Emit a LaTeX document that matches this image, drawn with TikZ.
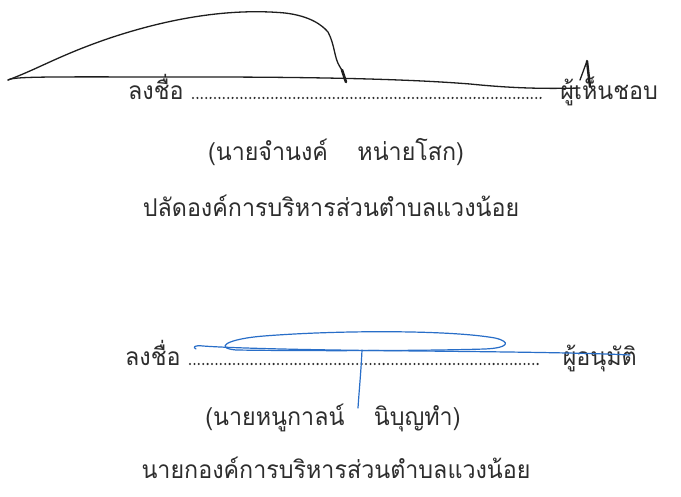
\documentclass[tikz,border=0pt]{standalone}
\usepackage{fontspec}
\newfontfamily\thai[Script=Thai,FakeStretch=0.95]{Loma}
\definecolor{ink}{RGB}{45,45,45}
\definecolor{sigblack}{RGB}{30,30,30}
\definecolor{sigblue}{RGB}{40,110,200}
\begin{document}
\begin{tikzpicture}[x=1pt,y=-1pt,
  txt/.style={inner sep=0pt,text=ink,font=\thai\fontsize{24.5}{29}\selectfont},
  dotline/.style={ink,line width=2.3pt,line cap=round,dash pattern=on 0pt off 4.4pt},
  sigk/.style={sigblack,line width=1.3pt,line cap=round,line join=round},
  sigb/.style={sigblue,line width=1.2pt,line cap=round,line join=round}]
\useasboundingbox[fill=white] (0,0) rectangle (681,497);
% first block
\node[txt,anchor=base west] (s1) at (128,100) {ลงชื่อ};
\node[txt,anchor=base east] (w1) at (658,100) {ผู้เห็นชอบ};
\coordinate (d1a) at (193,98);
\coordinate (d1b) at (541,98);
\draw[dotline] (d1a) -- (d1b);
\node[txt] (n1) at (336,152) {(นายจำนงค์\hspace{1.2em}หน่ายโสก)};
\node[txt] (p1) at (331,206) {ปลัดองค์การบริหารส่วนตำบลแวงน้อย};
% second block
\node[txt,anchor=base west] (s2) at (125,366) {ลงชื่อ};
\node[txt,anchor=base east] (w2) at (637,366) {ผู้อนุมัติ};
\coordinate (d2a) at (190,364);
\coordinate (d2b) at (540,364);
\draw[dotline] (d2a) -- (d2b);
\node[txt] (n2) at (333,418) {(นายหนูกาลน์\hspace{1.2em}นิบุญทำ)};
\node[txt] (p2) at (336,468) {นายกองค์การบริหารส่วนตำบลแวงน้อย};
% black signature
\draw[sigk] (8,80) .. controls (40,68) and (60,55) .. (110,38)
  .. controls (170,18) and (230,8) .. (285,13)
  .. controls (310,16) and (322,25) .. (328,32)
  .. controls (335,45) and (334,58) .. (340,67)
  -- (343,72);
\draw[sigblack,line width=2.6pt,line cap=round] (342,70) -- (346,82);
\draw[sigk] (8,80) .. controls (14,76) and (60,77) .. (200,77)
  .. controls (340,77) and (420,80) .. (470,84)
  .. controls (510,88) and (540,89) .. (580,88);
\draw[sigk] (580,80) -- (587,61);
\draw[sigblack,line width=2.4pt,line cap=round] (587,61) -- (590,87);
% blue signature
\draw[sigb] (196,349) .. controls (192,347) and (195,345) .. (203,346)
  .. controls (230,348) and (300,350) .. (420,351)
  .. controls (520,352) and (590,353) .. (630,355);
\draw[sigb] (236,350) .. controls (214,348) and (226,339) .. (264,336)
  .. controls (340,330) and (450,330) .. (495,338)
  .. controls (512,342) and (508,348) .. (485,349)
  .. controls (420,351) and (300,351) .. (236,350);
\draw[sigb] (362,350) .. controls (361,372) and (359,392) .. (358,408);
\end{tikzpicture}
\end{document}
